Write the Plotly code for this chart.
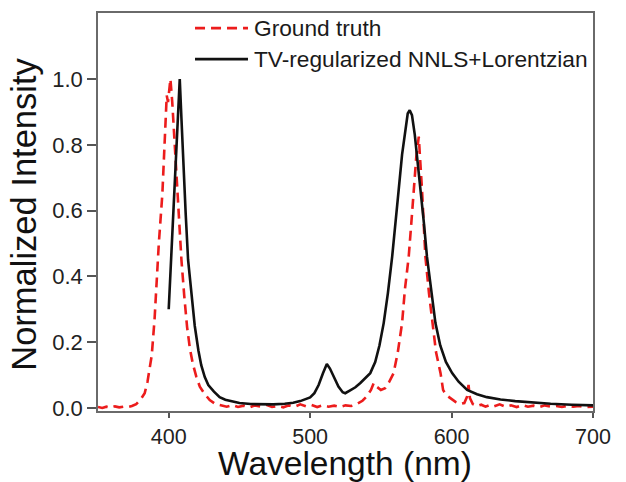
import plotly.graph_objects as go

# Ground-truth spectrum (red dashed)
truth_wl = [350, 353, 356, 359, 362, 365, 368, 371, 374, 377, 380, 383, 385, 387, 388,
            390, 391, 393, 395.5, 397, 398.6, 399.5, 400.5, 401.2, 402.5, 403.5, 405,
            406.6, 408, 409, 411, 413, 415, 417, 419.6, 422, 425, 429, 433, 437, 441,
            445, 449, 453, 457, 461, 465, 469, 473, 477, 481, 485, 489, 493, 497, 501,
            505, 509, 513, 517, 521, 525, 529, 533, 537, 540, 543, 545, 547, 550, 553,
            556, 559, 562, 565, 567, 569.7, 571.5, 573.3, 575, 576.8, 578, 579.1,
            580.3, 581.5, 584, 586.3, 589, 592.2, 594, 596, 599, 603, 606, 609, 611,
            612, 613, 615, 618, 621, 624, 627, 630, 634, 638, 642, 646, 650, 654, 658,
            662, 666, 670, 674, 678, 682, 686, 690, 694, 698, 700]
truth_int = [0.003, 0.000, 0.004, 0.001, 0.005, 0.002, 0.004, 0.003, 0.006, 0.012,
             0.025, 0.045, 0.08, 0.13, 0.16, 0.27, 0.35, 0.50, 0.65, 0.80, 0.95, 0.93,
             0.98, 1.00, 0.93, 0.855, 0.75, 0.65, 0.53, 0.45, 0.34, 0.246, 0.18, 0.135,
             0.094, 0.065, 0.045, 0.024, 0.012, 0.008, 0.004, 0.009, 0.003, 0.007,
             0.002, 0.008, 0.004, 0.010, 0.003, 0.006, 0.002, 0.008, 0.004, 0.011,
             0.005, 0.009, 0.003, 0.008, 0.004, 0.007, 0.003, 0.008, 0.006, 0.012,
             0.022, 0.035, 0.055, 0.076, 0.065, 0.055, 0.06, 0.08, 0.106, 0.17, 0.258,
             0.36, 0.46, 0.56, 0.663, 0.76, 0.825, 0.75, 0.663, 0.56, 0.46, 0.35,
             0.258, 0.17, 0.106, 0.055, 0.04, 0.03, 0.018, 0.012, 0.015, 0.035, 0.07,
             0.03, 0.012, 0.006, 0.010, 0.004, 0.009, 0.005, 0.011, 0.004, 0.008,
             0.003, 0.009, 0.004, 0.007, 0.003, 0.008, 0.004, 0.006, 0.003, 0.007,
             0.004, 0.006, 0.003, 0.005, 0.004]

# Reconstruction (black solid)
recon_wl = [400, 402, 404, 406, 407.8, 409, 410.2, 412, 413.7, 416, 418.4, 421, 423,
            425.5, 428, 432, 436, 440, 445, 450, 458, 466, 474, 482, 488, 493, 497,
            500, 503, 506, 509, 511.8, 514, 517, 520, 523, 524.8, 528, 532, 535.5,
            539, 542.5, 546, 549, 552, 555, 558, 560.5, 562.6, 565, 567.5, 569, 570.4,
            572, 574, 576, 578.4, 580.5, 582.6, 585.5, 588.6, 592, 596, 600.4, 605,
            611, 618, 625, 634.6, 645, 655, 670, 685, 700]
recon_int = [0.30, 0.475, 0.65, 0.825, 1.00, 0.88, 0.75, 0.59, 0.45, 0.34, 0.25, 0.175,
             0.13, 0.094, 0.07, 0.05, 0.033, 0.025, 0.019, 0.015, 0.012, 0.011, 0.011,
             0.013, 0.016, 0.021, 0.027, 0.032, 0.045, 0.07, 0.105, 0.134, 0.12, 0.09,
             0.065, 0.048, 0.045, 0.053, 0.063, 0.076, 0.092, 0.106, 0.14, 0.19, 0.258,
             0.35, 0.46, 0.56, 0.663, 0.77, 0.86, 0.895, 0.905, 0.89, 0.83, 0.745,
             0.663, 0.56, 0.46, 0.36, 0.258, 0.19, 0.14, 0.106, 0.08, 0.055, 0.042,
             0.033, 0.026, 0.021, 0.017, 0.013, 0.010, 0.008]

x_ticks = [400, 500, 600, 700]
y_ticks = [0.0, 0.2, 0.4, 0.6, 0.8, 1.0]
y_tick_labels = ["0.0", "0.2", "0.4", "0.6", "0.8", "1.0"]

series_names = ["Ground truth", "TV-regularized NNLS+Lorentzian"]
RED = "#ec1c1c"
BLACK = "#111111"
RED_DASH = "10px,6px"
FONT = "Liberation Sans, Arial, sans-serif"

fig = go.Figure()
fig.add_trace(go.Scatter(x=truth_wl, y=truth_int, mode="lines", name=series_names[0],
                         line=dict(color=RED, width=2.6, dash=RED_DASH)))
fig.add_trace(go.Scatter(x=recon_wl, y=recon_int, mode="lines", name=series_names[1],
                         line=dict(color=BLACK, width=2.6)))

# Legend drawn by hand so the sample lines can be longer than Plotly's default
legend_rows = [(0.962, RED, RED_DASH), (0.884, BLACK, "solid")]
for (ly, col, dash), label in zip(legend_rows, series_names):
    fig.add_shape(type="line", xref="paper", yref="paper", x0=0.196, x1=0.303,
                  y0=ly, y1=ly, line=dict(color=col, width=2.6, dash=dash))
    fig.add_annotation(xref="paper", yref="paper", x=0.311, y=ly, text=label,
                       showarrow=False, xanchor="left", yanchor="middle",
                       font=dict(family=FONT, size=22.7, color="#1a1a1a"))

# Axis titles
fig.add_annotation(xref="paper", yref="paper", x=0.498, y=-0.131, text="Wavelength (nm)",
                   showarrow=False, xanchor="center", yanchor="middle",
                   font=dict(family=FONT, size=33.5, color="#111111"))
fig.add_annotation(xref="paper", yref="paper", x=-0.15, y=0.495,
                   text="Normalized Intensity", textangle=-90, showarrow=False,
                   xanchor="center", yanchor="middle",
                   font=dict(family=FONT, size=34.5, color="#111111"))

axis_common = dict(showline=True, linecolor="#6a6a6a", linewidth=1.6, mirror=True,
                   ticks="outside", tickwidth=1.5, tickcolor="#555555",
                   showgrid=False, zeroline=False)

fig.update_layout(
    width=626, height=482,
    margin=dict(l=98, r=33, t=13, b=71),
    paper_bgcolor="white", plot_bgcolor="white",
    showlegend=False,
    xaxis=dict(range=[350, 700], tickvals=x_ticks, ticklen=5,
               tickfont=dict(family=FONT, size=21.5, color="#222222"), **axis_common),
    yaxis=dict(range=[-0.0091, 1.2006], tickvals=y_ticks, ticktext=y_tick_labels,
               ticklen=9, tickfont=dict(family=FONT, size=22, color="#222222"),
               **axis_common),
)

fig.write_html("out.html")
